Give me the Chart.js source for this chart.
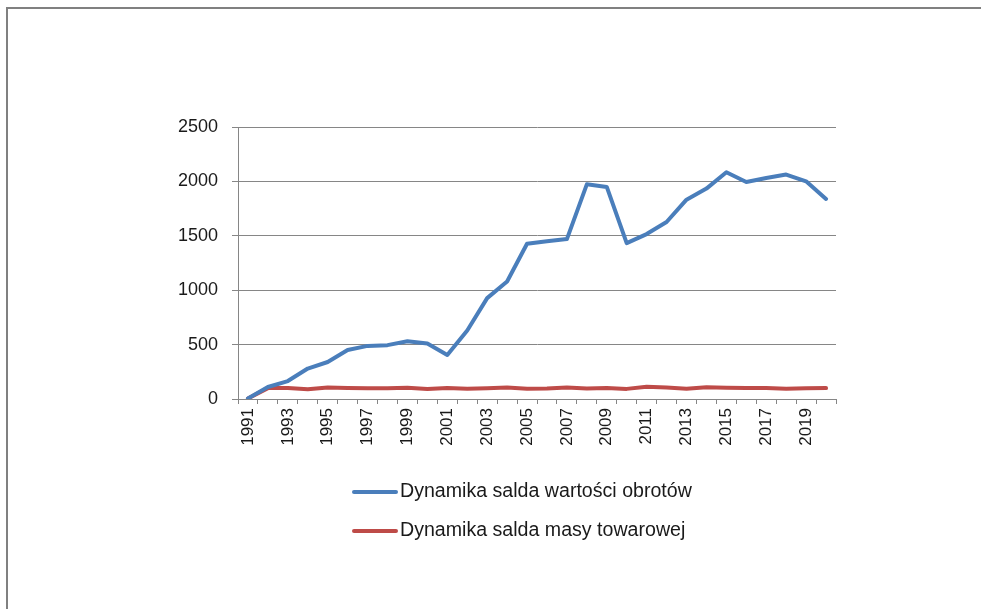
<!DOCTYPE html>
<html>
<head>
    <title>Dynamika salda</title>
    <script src="https://cdn.jsdelivr.net/npm/chart.js"></script>
    <style>
        body { margin: 0; overflow: hidden; background: #fff; }
        #frame { position: absolute; left: 6px; top: 7px; width: 1000px; height: 700px;
                 border-left: 2px solid #808080; border-top: 2px solid #808080; }
        #chart { position: absolute; left: 0; top: 0; }
    </style>
</head>
<body>
<div id="frame"></div>
<canvas id="chart" width="981" height="609"></canvas>
<script>
    var years = [];
    for (var y = 1991; y <= 2020; y++) years.push(String(y));

    var wartosc = [5, 110, 165, 280, 340, 450, 488, 495, 530, 510, 405, 630, 927, 1080, 1427, 1449, 1470,
                   1973, 1949, 1433, 1516, 1627, 1832, 1934, 2084, 1995, 2032, 2063, 2001, 1839];
    var masa = [5, 100, 102, 90, 105, 100, 98, 98, 103, 92, 102, 95, 98, 105, 95, 97, 105,
                97, 102, 93, 112, 105, 95, 107, 103, 100, 102, 95, 98, 100];

    var gridColor = '#868686';
    var textColor = '#1a1a1a';
    var fontFamily = '"Liberation Sans", Arial, sans-serif';

    // legend in two rows under the plot
    var legendRows = {
        id: 'legendRows',
        afterDraw: function(chart) {
            var c = chart.ctx;
            chart.data.datasets.forEach(function(ds, i) {
                var yy = 492 + i * 39;
                c.save();
                c.strokeStyle = ds.borderColor;
                c.lineWidth = 4;
                c.lineCap = 'round';
                c.beginPath();
                c.moveTo(354, yy);
                c.lineTo(396, yy);
                c.stroke();
                c.fillStyle = textColor;
                c.font = '19.6px ' + fontFamily;
                c.textBaseline = 'middle';
                c.fillText(ds.label, 400, yy);
                c.restore();
            });
        }
    };

    var ctx = document.getElementById('chart').getContext('2d');
    var chart = new Chart(ctx, {
        type: 'line',
        data: {
            labels: years,
            datasets: [{
                label: 'Dynamika salda wartości obrotów',
                data: wartosc,
                borderColor: '#4A7EBB',
                borderWidth: 4,
                borderCapStyle: 'round',
                borderJoinStyle: 'round',
                pointRadius: 0,
                fill: false
            },
            {
                label: 'Dynamika salda masy towarowej',
                data: masa,
                borderColor: '#BE4B48',
                borderWidth: 4,
                borderCapStyle: 'round',
                borderJoinStyle: 'round',
                pointRadius: 0,
                fill: false
            }]
        },
        options: {
            responsive: false,
            animation: false,
            layout: { padding: { left: 0, right: 145, top: 127, bottom: 150 } },
            scales: {
                y: {
                    min: 0,
                    max: 2500,
                    afterFit: function(s) { s.width = 238; },
                    ticks: { stepSize: 500, color: textColor, padding: 14,
                             font: { family: fontFamily, size: 18 },
                             callback: function(v) { return String(v); } },
                    grid: { color: gridColor, tickLength: 6 },
                    border: { color: gridColor }
                },
                x: {
                    offset: true,
                    afterFit: function(s) { s.height = 60; },
                    ticks: {
                        autoSkip: false, minRotation: 90, maxRotation: 90, padding: 4,
                        color: textColor, font: { family: fontFamily, size: 17 },
                        callback: function(v, i) { return i % 2 === 0 ? years[i] : ''; }
                    },
                    grid: { offset: true, drawOnChartArea: false, color: gridColor, tickLength: 5 },
                    border: { color: gridColor }
                }
            },
            plugins: {
                legend: { display: false },
                tooltip: { enabled: false }
            }
        },
        plugins: [legendRows]
    });
</script>
</body>
</html>
